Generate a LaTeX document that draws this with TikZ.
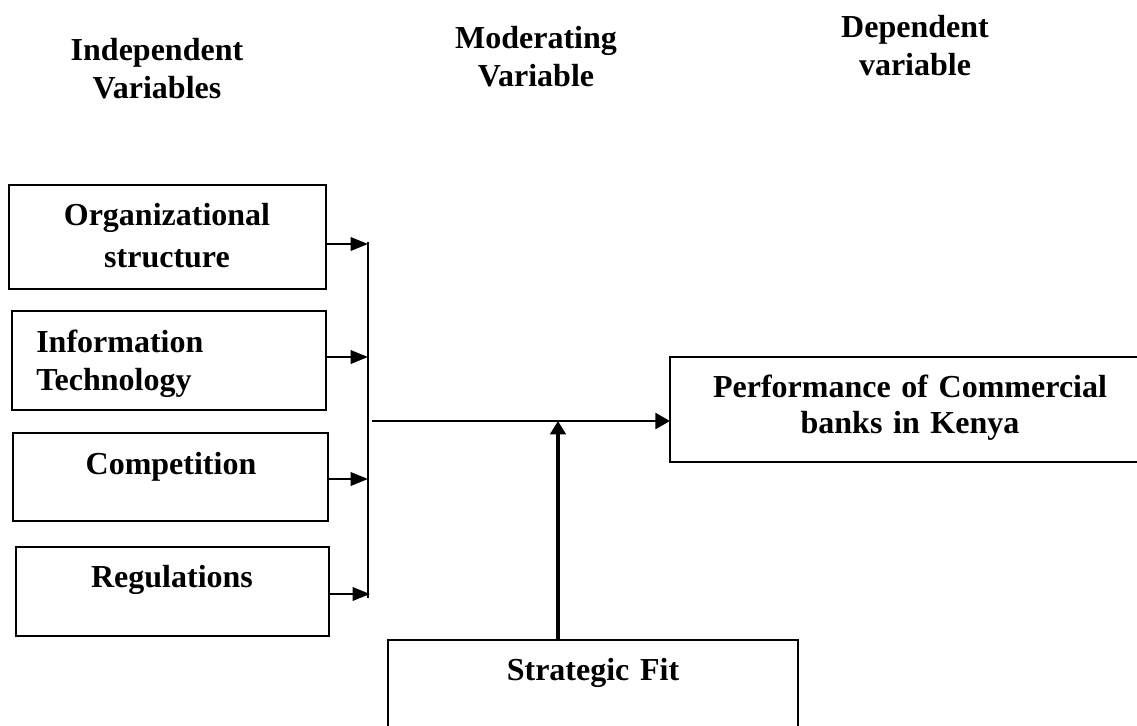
\documentclass[tikz,border=0pt]{standalone}
\usepackage{fontspec}
\setmainfont{Liberation Serif}
\usetikzlibrary{arrows.meta}

\begin{document}
\begin{tikzpicture}[x=0.75pt,y=-0.75pt,
    box/.style={draw,line width=1.9pt,inner sep=0pt,outer sep=0pt},
    sz/.style n args={2}{minimum width=#1*0.75pt,minimum height=#2*0.75pt},
    lbl/.style={font=\bfseries\fontsize{24pt}{29pt}\selectfont,text width=330pt,align=center,anchor=base,inner sep=0pt},
    feed/.style={line width=1.8pt,-{Triangle[length=13pt,width=10pt]}},
    main/.style={line width=1.8pt,-{Triangle[length=11pt,width=12pt]}},
    moder/.style={line width=3.2pt,-{Triangle[length=10pt,width=11.5pt]}}]
    \clip (0,0) rectangle (1137,725);
    \useasboundingbox (0,0) rectangle (1137,725);
    % column headings
    \node[lbl] (indep) at (157,60) {Independent\\Variables};
    \node[lbl] (moder) at (536,48) {Moderating\\Variable};
    \node[lbl] (depen) at (915,37) {Dependent\\variable};
    % boxes
    \node[box,sz={317}{104}] (org) at (167.5,237) {};
    \node[box,sz={314}{99}] (it) at (169,360.5) {};
    \node[box,sz={315}{88}] (comp) at (170.5,477) {};
    \node[box,sz={313}{89}] (reg) at (172.5,591.5) {};
    \node[box,sz={490}{105}] (perf) at (915,409.5) {};
    \node[box,sz={410}{130}] (sf) at (593,705) {};
    % box texts
    \node[lbl,font=\bfseries\fontsize{24pt}{32pt}\selectfont] (orgtxt) at (167,225) {Organizational\\structure};
    \node[lbl,align=left,anchor=base west,text width=300pt] (ittxt) at (36,352) {Information\\Technology};
    \node[lbl] (comptxt) at (171,474) {Competition};
    \node[lbl] (regtxt) at (172,587) {Regulations};
    \node[lbl,font=\bfseries\fontsize{24pt}{27pt}\selectfont] (perftxt) at (910,397) {Performance of Commercial\\banks in Kenya};
    \node[lbl] (sftxt) at (593,680) {Strategic Fit};
    % bus
    \coordinate (b1) at (368,244);
    \coordinate (b2) at (368,357);
    \coordinate (b3) at (368,479);
    \coordinate (b4) at (370,594);
    \coordinate (bustop) at (368,242);
    \coordinate (busbot) at (368,598);
    \coordinate (join) at (372,421);
    \coordinate (m) at (558,421);
    \draw[line width=1.8pt] (bustop) -- (busbot);
    \draw[feed] (org.east |- b1) -- (b1);
    \draw[feed] (it.east |- b2) -- (b2);
    \draw[feed] (comp.east |- b3) -- (b3);
    \draw[feed] (reg.east |- b4) -- (b4);
    \draw[main] (join) -- (perf.west |- join);
    \draw[moder] (sf.north -| m) -- (m);
\end{tikzpicture}
\end{document}
